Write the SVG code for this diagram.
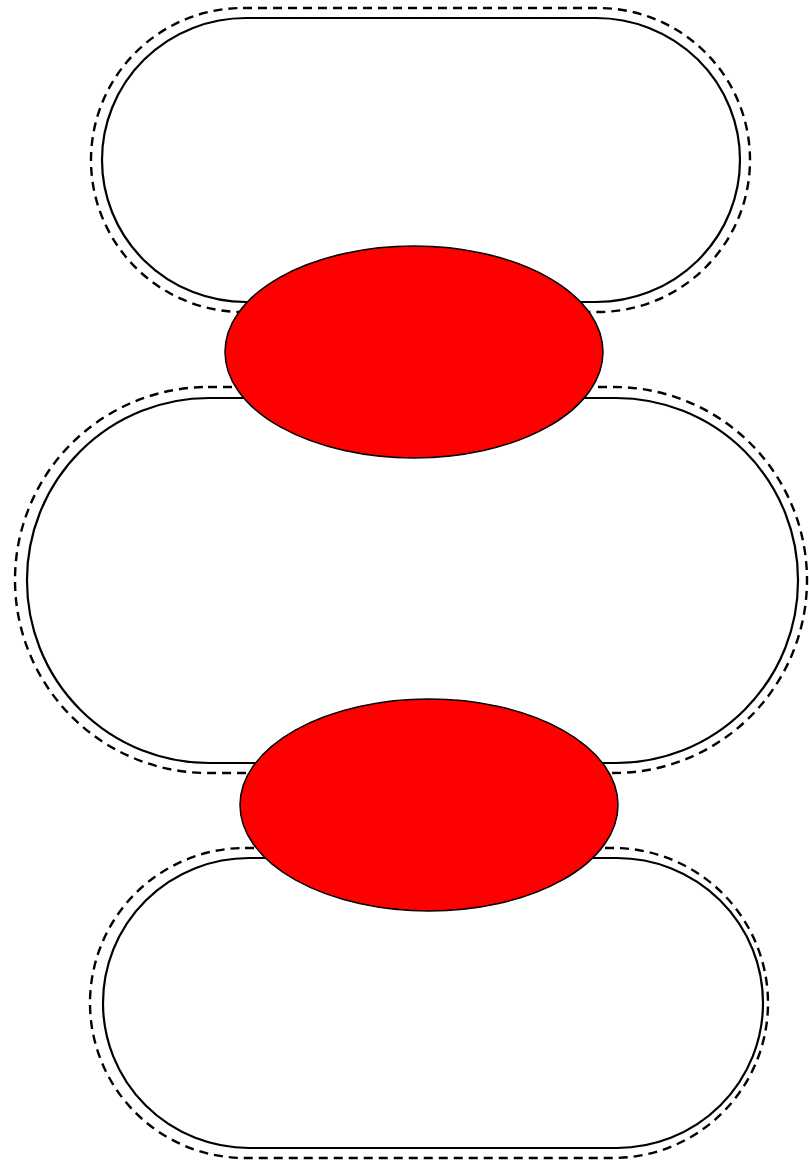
<svg xmlns="http://www.w3.org/2000/svg" width="809" height="1161" viewBox="0 0 809 1161">
<style>
.solid{fill:none;stroke:#000;stroke-width:2.2}
.dash{fill:none;stroke:#000;stroke-width:2.4;stroke-dasharray:9 6}
.red{fill:#fe0000;stroke:#000;stroke-width:1.5}
</style>
<rect width="809" height="1161" fill="#fff"/>
<g id="stadium-top">
<rect class="dash" x="91" y="8" width="659" height="304" rx="152" ry="152"/>
<rect class="solid" x="102" y="18" width="638" height="284" rx="144" ry="142"/>
</g>
<g id="stadium-middle">
<rect class="dash" x="15" y="387" width="792" height="386" rx="193" ry="193"/>
<rect class="solid" x="27" y="398" width="771" height="365" rx="182" ry="182"/>
</g>
<g id="stadium-bottom">
<rect class="dash" x="90" y="848" width="678" height="310" rx="155" ry="155"/>
<rect class="solid" x="103" y="858" width="660" height="290" rx="146" ry="145"/>
</g>
<g id="ellipse-upper">
<ellipse class="red" cx="414" cy="352" rx="189" ry="106"/>
</g>
<g id="ellipse-lower">
<ellipse class="red" cx="429" cy="805" rx="189" ry="106"/>
</g>
</svg>
